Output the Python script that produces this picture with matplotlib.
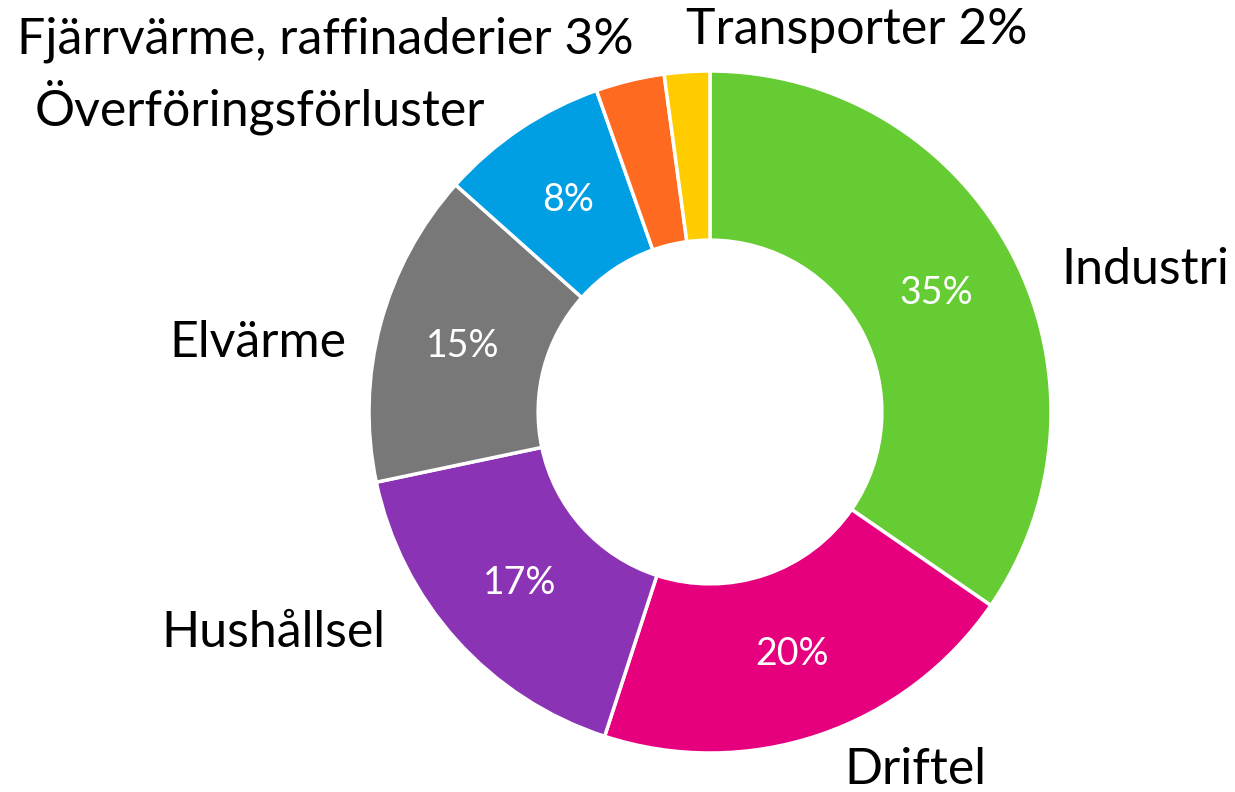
import matplotlib
matplotlib.use("Agg")
import matplotlib.pyplot as plt
import numpy as np

# andelar av elanvändningen (%), medurs från kl. 12
labels = ["Industri", "Driftel", "Hushållsel", "Elvärme",
          "Överföringsförluster", "Fjärrvärme, raffinaderier 3%", "Transporter 2%"]
shares = [34.6, 20.4, 16.7, 14.9, 8.0, 3.25, 2.15]
inner_pct = ["35%", "20%", "17%", "15%", "8%", "", ""]
colors = ["#66CC33", "#E6007E", "#8A33B5", "#787878", "#009FE3", "#FF6A21", "#FFCC00"]

# var etiketterna ligger (pixlar i bilden, mitt på texten)
label_px = [(1145, 270), (915, 770), (273, 633), (258, 343),
            (260, 107), (325, 40), (857, 30)]

W, H = 1235, 792
cx, cy, R = 710, 412, 341

plt.rcParams['font.family'] = ['Lato', 'DejaVu Sans']

fig = plt.figure(figsize=(W / 100, H / 100), dpi=100)
ax = fig.add_axes([0, 0, 1, 1])

wedges, _ = ax.pie(shares, colors=colors, startangle=90, counterclock=False,
                   radius=1.0, center=(0, 0),
                   wedgeprops=dict(width=0.496, edgecolor="white", linewidth=2.5))

# procent inne i ringen
ang0 = 90.0
tot = sum(shares)
for s, t in zip(shares, inner_pct):
    span = s / tot * 360
    mid = np.deg2rad(ang0 - span / 2)
    ang0 -= span
    if t:
        ax.text(0.75 * np.cos(mid), 0.75 * np.sin(mid), t, color="white",
                fontsize=27, ha="center", va="center")

for lab, (px, py) in zip(labels, label_px):
    ax.text((px - cx) / R, (cy - py) / R, lab, fontsize=36,
            ha="center", va="center", color="black")

ax.set_xlim(-cx / R, (W - cx) / R)
ax.set_ylim(-(H - cy) / R, cy / R)
ax.set_aspect("equal")
ax.axis("off")

fig.savefig("out.png", dpi=100, facecolor="white")
